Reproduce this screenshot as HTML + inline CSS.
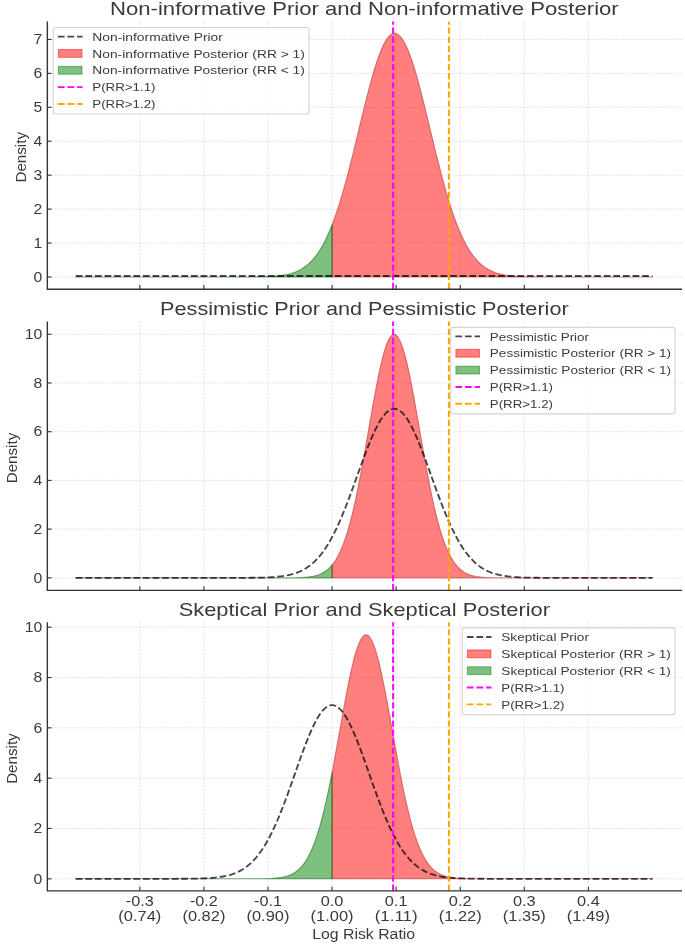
<!DOCTYPE html>
<html><head><meta charset="utf-8"><title>Prior and Posterior Densities</title>
<style>html,body{margin:0;padding:0;background:#fff;font-family:"Liberation Sans",sans-serif;}svg{display:block;will-change:transform;}</style></head>
<body>
<svg width="685" height="946" viewBox="0 0 685 946" font-family="'Liberation Sans', sans-serif">
<rect width="685" height="946" fill="#ffffff"/>
<g stroke="#cfcfcf" stroke-width="0.7" stroke-dasharray="2.2 1.2" stroke-opacity="0.8" fill="none"><line x1="139.83" y1="21.40" x2="139.83" y2="289.20"/><line x1="203.91" y1="21.40" x2="203.91" y2="289.20"/><line x1="267.99" y1="21.40" x2="267.99" y2="289.20"/><line x1="332.07" y1="21.40" x2="332.07" y2="289.20"/><line x1="396.15" y1="21.40" x2="396.15" y2="289.20"/><line x1="460.23" y1="21.40" x2="460.23" y2="289.20"/><line x1="524.31" y1="21.40" x2="524.31" y2="289.20"/><line x1="588.39" y1="21.40" x2="588.39" y2="289.20"/><line x1="47.35" y1="277.00" x2="682.00" y2="277.00"/><line x1="47.35" y1="243.06" x2="682.00" y2="243.06"/><line x1="47.35" y1="209.12" x2="682.00" y2="209.12"/><line x1="47.35" y1="175.18" x2="682.00" y2="175.18"/><line x1="47.35" y1="141.24" x2="682.00" y2="141.24"/><line x1="47.35" y1="107.30" x2="682.00" y2="107.30"/><line x1="47.35" y1="73.36" x2="682.00" y2="73.36"/><line x1="47.35" y1="39.42" x2="682.00" y2="39.42"/></g>
<path d="M332.07,277.00L332.07,224.74L333.03,222.22L334.48,218.29L335.92,214.18L337.37,209.89L338.82,205.43L340.26,200.79L341.71,195.99L343.15,191.03L344.60,185.92L346.04,180.66L347.49,175.27L348.93,169.75L350.38,164.11L351.82,158.38L353.27,152.56L354.71,146.67L356.16,140.73L357.61,134.75L359.05,128.75L360.50,122.75L361.94,116.78L363.39,110.84L364.83,104.97L366.28,99.19L367.72,93.52L369.17,87.98L370.61,82.59L372.06,77.37L373.51,72.35L374.95,67.56L376.40,63.00L377.84,58.70L379.29,54.69L380.73,50.97L382.18,47.57L383.62,44.51L385.07,41.78L386.51,39.42L387.96,37.44L389.40,35.83L390.85,34.61L392.30,33.78L393.74,33.36L395.19,33.34L396.63,33.71L398.08,34.49L399.52,35.67L400.97,37.23L402.41,39.17L403.86,41.49L405.30,44.17L406.75,47.20L408.20,50.56L409.64,54.24L411.09,58.22L412.53,62.49L413.98,67.01L415.42,71.78L416.87,76.77L418.31,81.97L419.76,87.34L421.20,92.86L422.65,98.52L424.09,104.30L425.54,110.15L426.99,116.08L428.43,122.05L429.88,128.05L431.32,134.05L432.77,140.03L434.21,145.98L435.66,151.88L437.10,157.70L438.55,163.45L439.99,169.10L441.44,174.63L442.89,180.04L444.33,185.31L445.78,190.45L447.22,195.42L448.67,200.24L450.11,204.90L451.56,209.38L453.00,213.69L454.45,217.82L455.89,221.77L457.34,225.55L458.78,229.14L460.23,232.56L461.68,235.80L463.12,238.87L464.57,241.76L466.01,244.49L467.46,247.06L468.90,249.47L470.35,251.73L471.79,253.84L473.24,255.81L474.68,257.65L476.13,259.35L477.57,260.93L479.02,262.40L480.47,263.75L481.91,265.00L483.36,266.14L484.80,267.20L486.25,268.16L487.69,269.05L489.14,269.85L490.58,270.59L492.03,271.26L493.47,271.87L494.92,272.42L496.37,272.92L497.81,273.37L499.26,273.77L500.70,274.14L502.15,274.47L503.59,274.76L505.04,275.03L506.48,275.26L507.93,275.47L509.37,275.66L510.82,275.82L512.26,275.97L513.71,276.10L515.16,276.21L516.60,276.32L518.05,276.41L519.49,276.48L520.94,276.55L522.38,276.61L523.83,276.67L525.27,276.71L526.72,276.75L528.16,276.79L529.61,276.82L531.06,276.84L532.50,276.87L533.95,276.89L535.39,276.90L536.84,276.92L538.28,276.93L539.73,276.94L541.17,276.95L542.62,276.96L544.06,276.96L545.51,276.97L546.95,276.97L548.40,276.98L549.85,276.98L551.29,276.98L552.74,276.99L554.18,276.99L555.63,276.99L557.07,276.99L558.52,276.99L559.96,276.99L561.41,277.00L562.85,277.00L564.30,277.00L565.75,277.00L567.19,277.00L568.64,277.00L570.08,277.00L571.53,277.00L572.97,277.00L574.42,277.00L575.86,277.00L577.31,277.00L578.75,277.00L580.20,277.00L581.64,277.00L583.09,277.00L584.54,277.00L585.98,277.00L587.43,277.00L588.87,277.00L590.32,277.00L591.76,277.00L593.21,277.00L594.65,277.00L596.10,277.00L597.54,277.00L598.99,277.00L600.44,277.00L601.88,277.00L603.33,277.00L604.77,277.00L606.22,277.00L607.66,277.00L609.11,277.00L610.55,277.00L612.00,277.00L613.44,277.00L614.89,277.00L616.33,277.00L617.78,277.00L619.23,277.00L620.67,277.00L622.12,277.00L623.56,277.00L625.01,277.00L626.45,277.00L627.90,277.00L629.34,277.00L630.79,277.00L632.23,277.00L633.68,277.00L635.13,277.00L636.57,277.00L638.02,277.00L639.46,277.00L640.91,277.00L642.35,277.00L643.80,277.00L645.24,277.00L646.69,277.00L648.13,277.00L649.58,277.00L651.02,277.00L652.47,277.00L652.47,277.00Z" fill="#ff0000" fill-opacity="0.5" stroke="#b02020" stroke-opacity="0.5" stroke-width="1.1" stroke-linejoin="round"/>
<path d="M75.75,277.00L75.75,277.00L77.20,277.00L78.64,277.00L80.09,277.00L81.53,277.00L82.98,277.00L84.42,277.00L85.87,277.00L87.31,277.00L88.76,277.00L90.20,277.00L91.65,277.00L93.09,277.00L94.54,277.00L95.99,277.00L97.43,277.00L98.88,277.00L100.32,277.00L101.77,277.00L103.21,277.00L104.66,277.00L106.10,277.00L107.55,277.00L108.99,277.00L110.44,277.00L111.89,277.00L113.33,277.00L114.78,277.00L116.22,277.00L117.67,277.00L119.11,277.00L120.56,277.00L122.00,277.00L123.45,277.00L124.89,277.00L126.34,277.00L127.78,277.00L129.23,277.00L130.68,277.00L132.12,277.00L133.57,277.00L135.01,277.00L136.46,277.00L137.90,277.00L139.35,277.00L140.79,277.00L142.24,277.00L143.68,277.00L145.13,277.00L146.58,277.00L148.02,277.00L149.47,277.00L150.91,277.00L152.36,277.00L153.80,277.00L155.25,277.00L156.69,277.00L158.14,277.00L159.58,277.00L161.03,277.00L162.47,277.00L163.92,277.00L165.37,277.00L166.81,277.00L168.26,277.00L169.70,277.00L171.15,277.00L172.59,277.00L174.04,277.00L175.48,277.00L176.93,277.00L178.37,277.00L179.82,277.00L181.27,277.00L182.71,277.00L184.16,277.00L185.60,277.00L187.05,277.00L188.49,277.00L189.94,277.00L191.38,277.00L192.83,277.00L194.27,277.00L195.72,277.00L197.16,277.00L198.61,277.00L200.06,277.00L201.50,277.00L202.95,277.00L204.39,277.00L205.84,277.00L207.28,277.00L208.73,277.00L210.17,277.00L211.62,277.00L213.06,277.00L214.51,277.00L215.96,277.00L217.40,277.00L218.85,277.00L220.29,277.00L221.74,277.00L223.18,277.00L224.63,277.00L226.07,277.00L227.52,277.00L228.96,277.00L230.41,276.99L231.85,276.99L233.30,276.99L234.75,276.99L236.19,276.99L237.64,276.99L239.08,276.98L240.53,276.98L241.97,276.97L243.42,276.97L244.86,276.96L246.31,276.96L247.75,276.95L249.20,276.94L250.65,276.93L252.09,276.92L253.54,276.90L254.98,276.89L256.43,276.87L257.87,276.85L259.32,276.82L260.76,276.79L262.21,276.76L263.65,276.72L265.10,276.67L266.54,276.62L267.99,276.56L269.44,276.49L270.88,276.42L272.33,276.33L273.77,276.23L275.22,276.11L276.66,275.99L278.11,275.84L279.55,275.68L281.00,275.49L282.44,275.29L283.89,275.05L285.33,274.79L286.78,274.50L288.23,274.18L289.67,273.82L291.12,273.42L292.56,272.97L294.01,272.48L295.45,271.93L296.90,271.33L298.34,270.67L299.79,269.94L301.23,269.14L302.68,268.27L304.13,267.31L305.57,266.27L307.02,265.13L308.46,263.90L309.91,262.56L311.35,261.11L312.80,259.54L314.24,257.85L315.69,256.03L317.13,254.08L318.58,251.99L320.02,249.74L321.47,247.35L322.92,244.80L324.36,242.09L325.81,239.21L327.25,236.16L328.70,232.94L330.14,229.55L331.59,225.97L332.07,224.74L332.07,277.00Z" fill="#008000" fill-opacity="0.5" stroke="#005a00" stroke-opacity="0.5" stroke-width="1.1" stroke-linejoin="round"/>
<g transform="scale(1 0.95)"><path d="M75.75,290.51L652.47,290.51" fill="none" stroke="#000000" stroke-opacity="0.72" stroke-width="1.9" stroke-dasharray="6.7 2.9"/>
<line x1="393.14" y1="304.42" x2="393.14" y2="22.53" stroke="#ff00ff" stroke-width="2.0" stroke-dasharray="6.7 2.9"/>
<line x1="448.90" y1="304.42" x2="448.90" y2="22.53" stroke="#ffa500" stroke-width="2.0" stroke-dasharray="6.7 2.9"/>
</g>
<path d="M47.35,21.40V289.20H682.00" fill="none" stroke="#333333" stroke-width="1.4" stroke-linecap="butt" stroke-linejoin="miter"/>
<g stroke="#333333" stroke-width="1.1"><line x1="139.83" y1="289.20" x2="139.83" y2="285.00"/><line x1="203.91" y1="289.20" x2="203.91" y2="285.00"/><line x1="267.99" y1="289.20" x2="267.99" y2="285.00"/><line x1="332.07" y1="289.20" x2="332.07" y2="285.00"/><line x1="396.15" y1="289.20" x2="396.15" y2="285.00"/><line x1="460.23" y1="289.20" x2="460.23" y2="285.00"/><line x1="524.31" y1="289.20" x2="524.31" y2="285.00"/><line x1="588.39" y1="289.20" x2="588.39" y2="285.00"/><line x1="47.35" y1="277.00" x2="51.55" y2="277.00"/><line x1="47.35" y1="243.06" x2="51.55" y2="243.06"/><line x1="47.35" y1="209.12" x2="51.55" y2="209.12"/><line x1="47.35" y1="175.18" x2="51.55" y2="175.18"/><line x1="47.35" y1="141.24" x2="51.55" y2="141.24"/><line x1="47.35" y1="107.30" x2="51.55" y2="107.30"/><line x1="47.35" y1="73.36" x2="51.55" y2="73.36"/><line x1="47.35" y1="39.42" x2="51.55" y2="39.42"/></g>
<text x="42.40" y="281.80" font-size="14.0" text-anchor="end" textLength="8.78" lengthAdjust="spacingAndGlyphs" fill="#3a3a3a">0</text>
<text x="42.40" y="247.86" font-size="14.0" text-anchor="end" textLength="8.78" lengthAdjust="spacingAndGlyphs" fill="#3a3a3a">1</text>
<text x="42.40" y="213.92" font-size="14.0" text-anchor="end" textLength="8.78" lengthAdjust="spacingAndGlyphs" fill="#3a3a3a">2</text>
<text x="42.40" y="179.98" font-size="14.0" text-anchor="end" textLength="8.78" lengthAdjust="spacingAndGlyphs" fill="#3a3a3a">3</text>
<text x="42.40" y="146.04" font-size="14.0" text-anchor="end" textLength="8.78" lengthAdjust="spacingAndGlyphs" fill="#3a3a3a">4</text>
<text x="42.40" y="112.10" font-size="14.0" text-anchor="end" textLength="8.78" lengthAdjust="spacingAndGlyphs" fill="#3a3a3a">5</text>
<text x="42.40" y="78.16" font-size="14.0" text-anchor="end" textLength="8.78" lengthAdjust="spacingAndGlyphs" fill="#3a3a3a">6</text>
<text x="42.40" y="44.22" font-size="14.0" text-anchor="end" textLength="8.78" lengthAdjust="spacingAndGlyphs" fill="#3a3a3a">7</text>
<g transform="translate(25.9,157.30) rotate(-90)"><text x="0.00" y="0.00" font-size="15.2" text-anchor="middle" textLength="50.56" lengthAdjust="spacingAndGlyphs" fill="#3a3a3a">Density</text></g>
<text x="364.38" y="15.00" font-size="18.5" text-anchor="middle" textLength="508.70" lengthAdjust="spacingAndGlyphs" fill="#3a3a3a">Non-informative Prior and Non-informative Posterior</text>
<rect x="53.20" y="27.50" width="255.80" height="86.50" rx="2.6" fill="#ffffff" fill-opacity="0.8" stroke="#cccccc" stroke-opacity="0.8" stroke-width="1.2"/>
<line x1="57.90" y1="36.60" x2="82.50" y2="36.60" stroke="#000" stroke-opacity="0.72" stroke-width="1.9" stroke-dasharray="6.7 2.9"/>
<text x="92.30" y="40.70" font-size="11.6" textLength="130.58" lengthAdjust="spacingAndGlyphs" fill="#3a3a3a">Non-informative Prior</text>
<rect x="58.40" y="49.55" width="23.6" height="7.8" fill="#ff0000" fill-opacity="0.5" stroke="#ff0000" stroke-opacity="0.5" stroke-width="1"/>
<text x="92.30" y="57.55" font-size="11.6" textLength="212.51" lengthAdjust="spacingAndGlyphs" fill="#3a3a3a">Non-informative Posterior (RR &gt; 1)</text>
<rect x="58.40" y="66.40" width="23.6" height="7.8" fill="#008000" fill-opacity="0.5" stroke="#008000" stroke-opacity="0.5" stroke-width="1"/>
<text x="92.30" y="74.40" font-size="11.6" textLength="212.51" lengthAdjust="spacingAndGlyphs" fill="#3a3a3a">Non-informative Posterior (RR &lt; 1)</text>
<line x1="57.90" y1="87.15" x2="82.50" y2="87.15" stroke="#ff00ff" stroke-width="1.9" stroke-dasharray="6.7 2.9"/>
<text x="92.30" y="91.25" font-size="11.6" textLength="63.25" lengthAdjust="spacingAndGlyphs" fill="#3a3a3a">P(RR&gt;1.1)</text>
<line x1="57.90" y1="104.00" x2="82.50" y2="104.00" stroke="#ffa500" stroke-width="1.9" stroke-dasharray="6.7 2.9"/>
<text x="92.30" y="108.10" font-size="11.6" textLength="63.25" lengthAdjust="spacingAndGlyphs" fill="#3a3a3a">P(RR&gt;1.2)</text>
<g stroke="#cfcfcf" stroke-width="0.7" stroke-dasharray="2.2 1.2" stroke-opacity="0.8" fill="none"><line x1="139.83" y1="321.60" x2="139.83" y2="590.40"/><line x1="203.91" y1="321.60" x2="203.91" y2="590.40"/><line x1="267.99" y1="321.60" x2="267.99" y2="590.40"/><line x1="332.07" y1="321.60" x2="332.07" y2="590.40"/><line x1="396.15" y1="321.60" x2="396.15" y2="590.40"/><line x1="460.23" y1="321.60" x2="460.23" y2="590.40"/><line x1="524.31" y1="321.60" x2="524.31" y2="590.40"/><line x1="588.39" y1="321.60" x2="588.39" y2="590.40"/><line x1="47.35" y1="577.85" x2="682.00" y2="577.85"/><line x1="47.35" y1="529.13" x2="682.00" y2="529.13"/><line x1="47.35" y1="480.41" x2="682.00" y2="480.41"/><line x1="47.35" y1="431.69" x2="682.00" y2="431.69"/><line x1="47.35" y1="382.97" x2="682.00" y2="382.97"/><line x1="47.35" y1="334.25" x2="682.00" y2="334.25"/></g>
<path d="M332.07,577.85L332.07,565.01L333.03,563.79L334.48,561.79L335.92,559.55L337.37,557.07L338.82,554.33L340.26,551.32L341.71,548.01L343.15,544.40L344.60,540.47L346.04,536.21L347.49,531.62L348.93,526.68L350.38,521.40L351.82,515.77L353.27,509.80L354.71,503.49L356.16,496.85L357.61,489.90L359.05,482.66L360.50,475.16L361.94,467.41L363.39,459.46L364.83,451.35L366.28,443.11L367.72,434.79L369.17,426.44L370.61,418.11L372.06,409.87L373.51,401.76L374.95,393.85L376.40,386.20L377.84,378.87L379.29,371.91L380.73,365.40L382.18,359.37L383.62,353.90L385.07,349.01L386.51,344.77L387.96,341.21L389.40,338.36L390.85,336.24L392.30,334.89L393.74,334.31L395.19,334.51L396.63,335.48L398.08,337.22L399.52,339.70L400.97,342.92L402.41,346.83L403.86,351.40L405.30,356.59L406.75,362.35L408.20,368.62L409.64,375.37L411.09,382.52L412.53,390.02L413.98,397.81L415.42,405.83L416.87,414.01L418.31,422.30L419.76,430.65L421.20,438.99L422.65,447.27L424.09,455.46L425.54,463.49L426.99,471.34L428.43,478.97L429.88,486.35L431.32,493.44L432.77,500.23L434.21,506.71L435.66,512.85L437.10,518.65L438.55,524.11L439.99,529.21L441.44,533.98L442.89,538.40L444.33,542.49L445.78,546.26L447.22,549.71L448.67,552.87L450.11,555.75L451.56,558.35L453.00,560.71L454.45,562.82L455.89,564.72L457.34,566.42L458.78,567.92L460.23,569.26L461.68,570.44L463.12,571.48L464.57,572.39L466.01,573.19L467.46,573.88L468.90,574.48L470.35,575.00L471.79,575.44L473.24,575.83L474.68,576.15L476.13,576.43L477.57,576.67L479.02,576.87L480.47,577.04L481.91,577.18L483.36,577.30L484.80,577.40L486.25,577.48L487.69,577.55L489.14,577.61L490.58,577.65L492.03,577.69L493.47,577.72L494.92,577.75L496.37,577.77L497.81,577.78L499.26,577.80L500.70,577.81L502.15,577.82L503.59,577.82L505.04,577.83L506.48,577.83L507.93,577.84L509.37,577.84L510.82,577.84L512.26,577.84L513.71,577.85L515.16,577.85L516.60,577.85L518.05,577.85L519.49,577.85L520.94,577.85L522.38,577.85L523.83,577.85L525.27,577.85L526.72,577.85L528.16,577.85L529.61,577.85L531.06,577.85L532.50,577.85L533.95,577.85L535.39,577.85L536.84,577.85L538.28,577.85L539.73,577.85L541.17,577.85L542.62,577.85L544.06,577.85L545.51,577.85L546.95,577.85L548.40,577.85L549.85,577.85L551.29,577.85L552.74,577.85L554.18,577.85L555.63,577.85L557.07,577.85L558.52,577.85L559.96,577.85L561.41,577.85L562.85,577.85L564.30,577.85L565.75,577.85L567.19,577.85L568.64,577.85L570.08,577.85L571.53,577.85L572.97,577.85L574.42,577.85L575.86,577.85L577.31,577.85L578.75,577.85L580.20,577.85L581.64,577.85L583.09,577.85L584.54,577.85L585.98,577.85L587.43,577.85L588.87,577.85L590.32,577.85L591.76,577.85L593.21,577.85L594.65,577.85L596.10,577.85L597.54,577.85L598.99,577.85L600.44,577.85L601.88,577.85L603.33,577.85L604.77,577.85L606.22,577.85L607.66,577.85L609.11,577.85L610.55,577.85L612.00,577.85L613.44,577.85L614.89,577.85L616.33,577.85L617.78,577.85L619.23,577.85L620.67,577.85L622.12,577.85L623.56,577.85L625.01,577.85L626.45,577.85L627.90,577.85L629.34,577.85L630.79,577.85L632.23,577.85L633.68,577.85L635.13,577.85L636.57,577.85L638.02,577.85L639.46,577.85L640.91,577.85L642.35,577.85L643.80,577.85L645.24,577.85L646.69,577.85L648.13,577.85L649.58,577.85L651.02,577.85L652.47,577.85L652.47,577.85Z" fill="#ff0000" fill-opacity="0.5" stroke="#b02020" stroke-opacity="0.5" stroke-width="1.1" stroke-linejoin="round"/>
<path d="M75.75,577.85L75.75,577.85L77.20,577.85L78.64,577.85L80.09,577.85L81.53,577.85L82.98,577.85L84.42,577.85L85.87,577.85L87.31,577.85L88.76,577.85L90.20,577.85L91.65,577.85L93.09,577.85L94.54,577.85L95.99,577.85L97.43,577.85L98.88,577.85L100.32,577.85L101.77,577.85L103.21,577.85L104.66,577.85L106.10,577.85L107.55,577.85L108.99,577.85L110.44,577.85L111.89,577.85L113.33,577.85L114.78,577.85L116.22,577.85L117.67,577.85L119.11,577.85L120.56,577.85L122.00,577.85L123.45,577.85L124.89,577.85L126.34,577.85L127.78,577.85L129.23,577.85L130.68,577.85L132.12,577.85L133.57,577.85L135.01,577.85L136.46,577.85L137.90,577.85L139.35,577.85L140.79,577.85L142.24,577.85L143.68,577.85L145.13,577.85L146.58,577.85L148.02,577.85L149.47,577.85L150.91,577.85L152.36,577.85L153.80,577.85L155.25,577.85L156.69,577.85L158.14,577.85L159.58,577.85L161.03,577.85L162.47,577.85L163.92,577.85L165.37,577.85L166.81,577.85L168.26,577.85L169.70,577.85L171.15,577.85L172.59,577.85L174.04,577.85L175.48,577.85L176.93,577.85L178.37,577.85L179.82,577.85L181.27,577.85L182.71,577.85L184.16,577.85L185.60,577.85L187.05,577.85L188.49,577.85L189.94,577.85L191.38,577.85L192.83,577.85L194.27,577.85L195.72,577.85L197.16,577.85L198.61,577.85L200.06,577.85L201.50,577.85L202.95,577.85L204.39,577.85L205.84,577.85L207.28,577.85L208.73,577.85L210.17,577.85L211.62,577.85L213.06,577.85L214.51,577.85L215.96,577.85L217.40,577.85L218.85,577.85L220.29,577.85L221.74,577.85L223.18,577.85L224.63,577.85L226.07,577.85L227.52,577.85L228.96,577.85L230.41,577.85L231.85,577.85L233.30,577.85L234.75,577.85L236.19,577.85L237.64,577.85L239.08,577.85L240.53,577.85L241.97,577.85L243.42,577.85L244.86,577.85L246.31,577.85L247.75,577.85L249.20,577.85L250.65,577.85L252.09,577.85L253.54,577.85L254.98,577.85L256.43,577.85L257.87,577.85L259.32,577.85L260.76,577.85L262.21,577.85L263.65,577.85L265.10,577.85L266.54,577.85L267.99,577.85L269.44,577.85L270.88,577.85L272.33,577.85L273.77,577.85L275.22,577.85L276.66,577.84L278.11,577.84L279.55,577.84L281.00,577.84L282.44,577.83L283.89,577.83L285.33,577.82L286.78,577.81L288.23,577.80L289.67,577.79L291.12,577.78L292.56,577.76L294.01,577.74L295.45,577.71L296.90,577.67L298.34,577.63L299.79,577.58L301.23,577.52L302.68,577.44L304.13,577.35L305.57,577.24L307.02,577.11L308.46,576.96L309.91,576.77L311.35,576.56L312.80,576.30L314.24,575.99L315.69,575.64L317.13,575.23L318.58,574.74L320.02,574.19L321.47,573.54L322.92,572.80L324.36,571.95L325.81,570.97L327.25,569.87L328.70,568.61L330.14,567.19L331.59,565.59L332.07,565.01L332.07,577.85Z" fill="#008000" fill-opacity="0.5" stroke="#005a00" stroke-opacity="0.5" stroke-width="1.1" stroke-linejoin="round"/>
<g transform="scale(1 0.95)"><path d="M75.75,608.26L77.20,608.26L78.64,608.26L80.09,608.26L81.53,608.26L82.98,608.26L84.42,608.26L85.87,608.26L87.31,608.26L88.76,608.26L90.20,608.26L91.65,608.26L93.09,608.26L94.54,608.26L95.99,608.26L97.43,608.26L98.88,608.26L100.32,608.26L101.77,608.26L103.21,608.26L104.66,608.26L106.10,608.26L107.55,608.26L108.99,608.26L110.44,608.26L111.89,608.26L113.33,608.26L114.78,608.26L116.22,608.26L117.67,608.26L119.11,608.26L120.56,608.26L122.00,608.26L123.45,608.26L124.89,608.26L126.34,608.26L127.78,608.26L129.23,608.26L130.68,608.26L132.12,608.26L133.57,608.26L135.01,608.26L136.46,608.26L137.90,608.26L139.35,608.26L140.79,608.26L142.24,608.26L143.68,608.26L145.13,608.26L146.58,608.26L148.02,608.26L149.47,608.26L150.91,608.26L152.36,608.26L153.80,608.26L155.25,608.26L156.69,608.26L158.14,608.26L159.58,608.26L161.03,608.26L162.47,608.26L163.92,608.26L165.37,608.26L166.81,608.26L168.26,608.26L169.70,608.26L171.15,608.26L172.59,608.26L174.04,608.26L175.48,608.26L176.93,608.26L178.37,608.26L179.82,608.26L181.27,608.26L182.71,608.26L184.16,608.26L185.60,608.26L187.05,608.26L188.49,608.26L189.94,608.26L191.38,608.26L192.83,608.26L194.27,608.26L195.72,608.26L197.16,608.26L198.61,608.26L200.06,608.26L201.50,608.26L202.95,608.26L204.39,608.26L205.84,608.26L207.28,608.26L208.73,608.26L210.17,608.26L211.62,608.26L213.06,608.26L214.51,608.26L215.96,608.26L217.40,608.26L218.85,608.26L220.29,608.26L221.74,608.26L223.18,608.26L224.63,608.26L226.07,608.26L227.52,608.26L228.96,608.26L230.41,608.25L231.85,608.25L233.30,608.25L234.75,608.25L236.19,608.25L237.64,608.24L239.08,608.24L240.53,608.23L241.97,608.23L243.42,608.22L244.86,608.22L246.31,608.21L247.75,608.20L249.20,608.19L250.65,608.17L252.09,608.16L253.54,608.14L254.98,608.12L256.43,608.10L257.87,608.07L259.32,608.04L260.76,608.01L262.21,607.97L263.65,607.93L265.10,607.88L266.54,607.82L267.99,607.76L269.44,607.69L270.88,607.61L272.33,607.52L273.77,607.41L275.22,607.30L276.66,607.17L278.11,607.02L279.55,606.86L281.00,606.68L282.44,606.48L283.89,606.25L285.33,606.01L286.78,605.73L288.23,605.43L289.67,605.09L291.12,604.72L292.56,604.31L294.01,603.86L295.45,603.37L296.90,602.83L298.34,602.24L299.79,601.60L301.23,600.90L302.68,600.14L304.13,599.32L305.57,598.42L307.02,597.46L308.46,596.41L309.91,595.29L311.35,594.08L312.80,592.79L314.24,591.40L315.69,589.92L317.13,588.33L318.58,586.64L320.02,584.85L321.47,582.94L322.92,580.92L324.36,578.79L325.81,576.54L327.25,574.17L328.70,571.67L330.14,569.06L331.59,566.32L333.03,563.47L334.48,560.49L335.92,557.39L337.37,554.17L338.82,550.84L340.26,547.40L341.71,543.85L343.15,540.20L344.60,536.45L346.04,532.61L347.49,528.69L348.93,524.69L350.38,520.63L351.82,516.51L353.27,512.35L354.71,508.15L356.16,503.93L357.61,499.70L359.05,495.47L360.50,491.26L361.94,487.07L363.39,482.93L364.83,478.85L366.28,474.83L367.72,470.91L369.17,467.09L370.61,463.38L372.06,459.81L373.51,456.38L374.95,453.11L376.40,450.02L377.84,447.11L379.29,444.40L380.73,441.90L382.18,439.62L383.62,437.57L385.07,435.77L386.51,434.21L387.96,432.91L389.40,431.87L390.85,431.10L392.30,430.60L393.74,430.37L395.19,430.42L396.63,430.73L398.08,431.32L399.52,432.18L400.97,433.31L402.41,434.69L403.86,436.33L405.30,438.22L406.75,440.34L408.20,442.69L409.64,445.26L411.09,448.04L412.53,451.01L413.98,454.16L415.42,457.48L416.87,460.96L418.31,464.58L419.76,468.32L421.20,472.18L422.65,476.14L424.09,480.17L425.54,484.28L426.99,488.43L428.43,492.63L429.88,496.85L431.32,501.08L432.77,505.31L434.21,509.53L435.66,513.72L437.10,517.86L438.55,521.96L439.99,526.01L441.44,529.98L442.89,533.87L444.33,537.68L445.78,541.40L447.22,545.02L448.67,548.54L450.11,551.94L451.56,555.24L453.00,558.41L454.45,561.47L455.89,564.41L457.34,567.23L458.78,569.93L460.23,572.50L461.68,574.95L463.12,577.29L464.57,579.50L466.01,581.59L467.46,583.58L468.90,585.44L470.35,587.20L471.79,588.86L473.24,590.41L474.68,591.86L476.13,593.22L477.57,594.49L479.02,595.67L480.47,596.76L481.91,597.78L483.36,598.72L484.80,599.59L486.25,600.40L487.69,601.14L489.14,601.82L490.58,602.44L492.03,603.01L493.47,603.53L494.92,604.01L496.37,604.45L497.81,604.84L499.26,605.20L500.70,605.53L502.15,605.82L503.59,606.09L505.04,606.33L506.48,606.55L507.93,606.74L509.37,606.92L510.82,607.07L512.26,607.21L513.71,607.34L515.16,607.45L516.60,607.55L518.05,607.64L519.49,607.71L520.94,607.78L522.38,607.84L523.83,607.90L525.27,607.94L526.72,607.99L528.16,608.02L529.61,608.05L531.06,608.08L532.50,608.11L533.95,608.13L535.39,608.15L536.84,608.16L538.28,608.18L539.73,608.19L541.17,608.20L542.62,608.21L544.06,608.22L545.51,608.22L546.95,608.23L548.40,608.24L549.85,608.24L551.29,608.24L552.74,608.25L554.18,608.25L555.63,608.25L557.07,608.25L558.52,608.25L559.96,608.26L561.41,608.26L562.85,608.26L564.30,608.26L565.75,608.26L567.19,608.26L568.64,608.26L570.08,608.26L571.53,608.26L572.97,608.26L574.42,608.26L575.86,608.26L577.31,608.26L578.75,608.26L580.20,608.26L581.64,608.26L583.09,608.26L584.54,608.26L585.98,608.26L587.43,608.26L588.87,608.26L590.32,608.26L591.76,608.26L593.21,608.26L594.65,608.26L596.10,608.26L597.54,608.26L598.99,608.26L600.44,608.26L601.88,608.26L603.33,608.26L604.77,608.26L606.22,608.26L607.66,608.26L609.11,608.26L610.55,608.26L612.00,608.26L613.44,608.26L614.89,608.26L616.33,608.26L617.78,608.26L619.23,608.26L620.67,608.26L622.12,608.26L623.56,608.26L625.01,608.26L626.45,608.26L627.90,608.26L629.34,608.26L630.79,608.26L632.23,608.26L633.68,608.26L635.13,608.26L636.57,608.26L638.02,608.26L639.46,608.26L640.91,608.26L642.35,608.26L643.80,608.26L645.24,608.26L646.69,608.26L648.13,608.26L649.58,608.26L651.02,608.26L652.47,608.26" fill="none" stroke="#000000" stroke-opacity="0.72" stroke-width="1.9" stroke-dasharray="6.7 2.9"/>
<line x1="393.14" y1="621.47" x2="393.14" y2="338.53" stroke="#ff00ff" stroke-width="2.0" stroke-dasharray="6.7 2.9"/>
<line x1="448.90" y1="621.47" x2="448.90" y2="338.53" stroke="#ffa500" stroke-width="2.0" stroke-dasharray="6.7 2.9"/>
</g>
<path d="M47.35,321.60V590.40H682.00" fill="none" stroke="#333333" stroke-width="1.4" stroke-linecap="butt" stroke-linejoin="miter"/>
<g stroke="#333333" stroke-width="1.1"><line x1="139.83" y1="590.40" x2="139.83" y2="586.20"/><line x1="203.91" y1="590.40" x2="203.91" y2="586.20"/><line x1="267.99" y1="590.40" x2="267.99" y2="586.20"/><line x1="332.07" y1="590.40" x2="332.07" y2="586.20"/><line x1="396.15" y1="590.40" x2="396.15" y2="586.20"/><line x1="460.23" y1="590.40" x2="460.23" y2="586.20"/><line x1="524.31" y1="590.40" x2="524.31" y2="586.20"/><line x1="588.39" y1="590.40" x2="588.39" y2="586.20"/><line x1="47.35" y1="577.85" x2="51.55" y2="577.85"/><line x1="47.35" y1="529.13" x2="51.55" y2="529.13"/><line x1="47.35" y1="480.41" x2="51.55" y2="480.41"/><line x1="47.35" y1="431.69" x2="51.55" y2="431.69"/><line x1="47.35" y1="382.97" x2="51.55" y2="382.97"/><line x1="47.35" y1="334.25" x2="51.55" y2="334.25"/></g>
<text x="42.40" y="582.65" font-size="14.0" text-anchor="end" textLength="8.78" lengthAdjust="spacingAndGlyphs" fill="#3a3a3a">0</text>
<text x="42.40" y="533.93" font-size="14.0" text-anchor="end" textLength="8.78" lengthAdjust="spacingAndGlyphs" fill="#3a3a3a">2</text>
<text x="42.40" y="485.21" font-size="14.0" text-anchor="end" textLength="8.78" lengthAdjust="spacingAndGlyphs" fill="#3a3a3a">4</text>
<text x="42.40" y="436.49" font-size="14.0" text-anchor="end" textLength="8.78" lengthAdjust="spacingAndGlyphs" fill="#3a3a3a">6</text>
<text x="42.40" y="387.77" font-size="14.0" text-anchor="end" textLength="8.78" lengthAdjust="spacingAndGlyphs" fill="#3a3a3a">8</text>
<text x="42.40" y="339.05" font-size="14.0" text-anchor="end" textLength="17.56" lengthAdjust="spacingAndGlyphs" fill="#3a3a3a">10</text>
<g transform="translate(16.9,458.00) rotate(-90)"><text x="0.00" y="0.00" font-size="15.2" text-anchor="middle" textLength="50.56" lengthAdjust="spacingAndGlyphs" fill="#3a3a3a">Density</text></g>
<text x="364.38" y="315.30" font-size="18.5" text-anchor="middle" textLength="408.48" lengthAdjust="spacingAndGlyphs" fill="#3a3a3a">Pessimistic Prior and Pessimistic Posterior</text>
<rect x="450.70" y="327.30" width="224.30" height="86.50" rx="2.6" fill="#ffffff" fill-opacity="0.8" stroke="#cccccc" stroke-opacity="0.8" stroke-width="1.2"/>
<line x1="455.40" y1="336.40" x2="480.00" y2="336.40" stroke="#000" stroke-opacity="0.72" stroke-width="1.9" stroke-dasharray="6.7 2.9"/>
<text x="489.80" y="340.50" font-size="11.6" textLength="99.27" lengthAdjust="spacingAndGlyphs" fill="#3a3a3a">Pessimistic Prior</text>
<rect x="455.90" y="349.35" width="23.6" height="7.8" fill="#ff0000" fill-opacity="0.5" stroke="#ff0000" stroke-opacity="0.5" stroke-width="1"/>
<text x="489.80" y="357.35" font-size="11.6" textLength="181.21" lengthAdjust="spacingAndGlyphs" fill="#3a3a3a">Pessimistic Posterior (RR &gt; 1)</text>
<rect x="455.90" y="366.20" width="23.6" height="7.8" fill="#008000" fill-opacity="0.5" stroke="#008000" stroke-opacity="0.5" stroke-width="1"/>
<text x="489.80" y="374.20" font-size="11.6" textLength="181.21" lengthAdjust="spacingAndGlyphs" fill="#3a3a3a">Pessimistic Posterior (RR &lt; 1)</text>
<line x1="455.40" y1="386.95" x2="480.00" y2="386.95" stroke="#ff00ff" stroke-width="1.9" stroke-dasharray="6.7 2.9"/>
<text x="489.80" y="391.05" font-size="11.6" textLength="63.25" lengthAdjust="spacingAndGlyphs" fill="#3a3a3a">P(RR&gt;1.1)</text>
<line x1="455.40" y1="403.80" x2="480.00" y2="403.80" stroke="#ffa500" stroke-width="1.9" stroke-dasharray="6.7 2.9"/>
<text x="489.80" y="407.90" font-size="11.6" textLength="63.25" lengthAdjust="spacingAndGlyphs" fill="#3a3a3a">P(RR&gt;1.2)</text>
<g stroke="#cfcfcf" stroke-width="0.7" stroke-dasharray="2.2 1.2" stroke-opacity="0.8" fill="none"><line x1="139.83" y1="622.30" x2="139.83" y2="890.90"/><line x1="203.91" y1="622.30" x2="203.91" y2="890.90"/><line x1="267.99" y1="622.30" x2="267.99" y2="890.90"/><line x1="332.07" y1="622.30" x2="332.07" y2="890.90"/><line x1="396.15" y1="622.30" x2="396.15" y2="890.90"/><line x1="460.23" y1="622.30" x2="460.23" y2="890.90"/><line x1="524.31" y1="622.30" x2="524.31" y2="890.90"/><line x1="588.39" y1="622.30" x2="588.39" y2="890.90"/><line x1="47.35" y1="878.80" x2="682.00" y2="878.80"/><line x1="47.35" y1="828.48" x2="682.00" y2="828.48"/><line x1="47.35" y1="778.16" x2="682.00" y2="778.16"/><line x1="47.35" y1="727.84" x2="682.00" y2="727.84"/><line x1="47.35" y1="677.52" x2="682.00" y2="677.52"/><line x1="47.35" y1="627.20" x2="682.00" y2="627.20"/></g>
<path d="M332.07,878.80L332.07,772.41L333.03,767.35L334.48,759.61L335.92,751.72L337.37,743.70L338.82,735.62L340.26,727.50L341.71,719.41L343.15,711.38L344.60,703.48L346.04,695.76L347.49,688.27L348.93,681.07L350.38,674.22L351.82,667.77L353.27,661.76L354.71,656.25L356.16,651.29L357.61,646.92L359.05,643.17L360.50,640.08L361.94,637.68L363.39,635.99L364.83,635.01L366.28,634.77L367.72,635.26L369.17,636.48L370.61,638.42L372.06,641.06L373.51,644.37L374.95,648.34L376.40,652.92L377.84,658.07L379.29,663.75L380.73,669.91L382.18,676.51L383.62,683.49L385.07,690.79L386.51,698.36L387.96,706.15L389.40,714.10L390.85,722.15L392.30,730.26L393.74,738.37L395.19,746.44L396.63,754.42L398.08,762.26L399.52,769.94L400.97,777.42L402.41,784.67L403.86,791.67L405.30,798.38L406.75,804.81L408.20,810.92L409.64,816.71L411.09,822.18L412.53,827.33L413.98,832.15L415.42,836.64L416.87,840.81L418.31,844.68L419.76,848.24L421.20,851.51L422.65,854.51L424.09,857.24L425.54,859.72L426.99,861.97L428.43,864.00L429.88,865.82L431.32,867.45L432.77,868.91L434.21,870.20L435.66,871.35L437.10,872.37L438.55,873.26L439.99,874.04L441.44,874.73L442.89,875.32L444.33,875.84L445.78,876.29L447.22,876.68L448.67,877.01L450.11,877.29L451.56,877.54L453.00,877.75L454.45,877.92L455.89,878.07L457.34,878.20L458.78,878.30L460.23,878.39L461.68,878.46L463.12,878.52L464.57,878.57L466.01,878.62L467.46,878.65L468.90,878.68L470.35,878.70L471.79,878.72L473.24,878.74L474.68,878.75L476.13,878.76L477.57,878.77L479.02,878.78L480.47,878.78L481.91,878.78L483.36,878.79L484.80,878.79L486.25,878.79L487.69,878.79L489.14,878.80L490.58,878.80L492.03,878.80L493.47,878.80L494.92,878.80L496.37,878.80L497.81,878.80L499.26,878.80L500.70,878.80L502.15,878.80L503.59,878.80L505.04,878.80L506.48,878.80L507.93,878.80L509.37,878.80L510.82,878.80L512.26,878.80L513.71,878.80L515.16,878.80L516.60,878.80L518.05,878.80L519.49,878.80L520.94,878.80L522.38,878.80L523.83,878.80L525.27,878.80L526.72,878.80L528.16,878.80L529.61,878.80L531.06,878.80L532.50,878.80L533.95,878.80L535.39,878.80L536.84,878.80L538.28,878.80L539.73,878.80L541.17,878.80L542.62,878.80L544.06,878.80L545.51,878.80L546.95,878.80L548.40,878.80L549.85,878.80L551.29,878.80L552.74,878.80L554.18,878.80L555.63,878.80L557.07,878.80L558.52,878.80L559.96,878.80L561.41,878.80L562.85,878.80L564.30,878.80L565.75,878.80L567.19,878.80L568.64,878.80L570.08,878.80L571.53,878.80L572.97,878.80L574.42,878.80L575.86,878.80L577.31,878.80L578.75,878.80L580.20,878.80L581.64,878.80L583.09,878.80L584.54,878.80L585.98,878.80L587.43,878.80L588.87,878.80L590.32,878.80L591.76,878.80L593.21,878.80L594.65,878.80L596.10,878.80L597.54,878.80L598.99,878.80L600.44,878.80L601.88,878.80L603.33,878.80L604.77,878.80L606.22,878.80L607.66,878.80L609.11,878.80L610.55,878.80L612.00,878.80L613.44,878.80L614.89,878.80L616.33,878.80L617.78,878.80L619.23,878.80L620.67,878.80L622.12,878.80L623.56,878.80L625.01,878.80L626.45,878.80L627.90,878.80L629.34,878.80L630.79,878.80L632.23,878.80L633.68,878.80L635.13,878.80L636.57,878.80L638.02,878.80L639.46,878.80L640.91,878.80L642.35,878.80L643.80,878.80L645.24,878.80L646.69,878.80L648.13,878.80L649.58,878.80L651.02,878.80L652.47,878.80L652.47,878.80Z" fill="#ff0000" fill-opacity="0.5" stroke="#b02020" stroke-opacity="0.5" stroke-width="1.1" stroke-linejoin="round"/>
<path d="M75.75,878.80L75.75,878.80L77.20,878.80L78.64,878.80L80.09,878.80L81.53,878.80L82.98,878.80L84.42,878.80L85.87,878.80L87.31,878.80L88.76,878.80L90.20,878.80L91.65,878.80L93.09,878.80L94.54,878.80L95.99,878.80L97.43,878.80L98.88,878.80L100.32,878.80L101.77,878.80L103.21,878.80L104.66,878.80L106.10,878.80L107.55,878.80L108.99,878.80L110.44,878.80L111.89,878.80L113.33,878.80L114.78,878.80L116.22,878.80L117.67,878.80L119.11,878.80L120.56,878.80L122.00,878.80L123.45,878.80L124.89,878.80L126.34,878.80L127.78,878.80L129.23,878.80L130.68,878.80L132.12,878.80L133.57,878.80L135.01,878.80L136.46,878.80L137.90,878.80L139.35,878.80L140.79,878.80L142.24,878.80L143.68,878.80L145.13,878.80L146.58,878.80L148.02,878.80L149.47,878.80L150.91,878.80L152.36,878.80L153.80,878.80L155.25,878.80L156.69,878.80L158.14,878.80L159.58,878.80L161.03,878.80L162.47,878.80L163.92,878.80L165.37,878.80L166.81,878.80L168.26,878.80L169.70,878.80L171.15,878.80L172.59,878.80L174.04,878.80L175.48,878.80L176.93,878.80L178.37,878.80L179.82,878.80L181.27,878.80L182.71,878.80L184.16,878.80L185.60,878.80L187.05,878.80L188.49,878.80L189.94,878.80L191.38,878.80L192.83,878.80L194.27,878.80L195.72,878.80L197.16,878.80L198.61,878.80L200.06,878.80L201.50,878.80L202.95,878.80L204.39,878.80L205.84,878.80L207.28,878.80L208.73,878.80L210.17,878.80L211.62,878.80L213.06,878.80L214.51,878.80L215.96,878.80L217.40,878.80L218.85,878.80L220.29,878.80L221.74,878.80L223.18,878.80L224.63,878.80L226.07,878.80L227.52,878.80L228.96,878.80L230.41,878.80L231.85,878.80L233.30,878.80L234.75,878.80L236.19,878.80L237.64,878.80L239.08,878.80L240.53,878.80L241.97,878.80L243.42,878.80L244.86,878.79L246.31,878.79L247.75,878.79L249.20,878.79L250.65,878.78L252.09,878.78L253.54,878.77L254.98,878.77L256.43,878.76L257.87,878.75L259.32,878.73L260.76,878.72L262.21,878.70L263.65,878.67L265.10,878.64L266.54,878.60L267.99,878.56L269.44,878.50L270.88,878.44L272.33,878.36L273.77,878.27L275.22,878.16L276.66,878.02L278.11,877.86L279.55,877.68L281.00,877.46L282.44,877.20L283.89,876.90L285.33,876.55L286.78,876.15L288.23,875.67L289.67,875.13L291.12,874.50L292.56,873.79L294.01,872.97L295.45,872.04L296.90,870.98L298.34,869.78L299.79,868.43L301.23,866.92L302.68,865.22L304.13,863.33L305.57,861.23L307.02,858.91L308.46,856.34L309.91,853.52L311.35,850.43L312.80,847.06L314.24,843.40L315.69,839.43L317.13,835.15L318.58,830.54L320.02,825.62L321.47,820.36L322.92,814.78L324.36,808.88L325.81,802.66L327.25,796.13L328.70,789.32L330.14,782.24L331.59,774.91L332.07,772.41L332.07,878.80Z" fill="#008000" fill-opacity="0.5" stroke="#005a00" stroke-opacity="0.5" stroke-width="1.1" stroke-linejoin="round"/>
<g transform="scale(1 0.95)"><path d="M75.75,925.05L77.20,925.05L78.64,925.05L80.09,925.05L81.53,925.05L82.98,925.05L84.42,925.05L85.87,925.05L87.31,925.05L88.76,925.05L90.20,925.05L91.65,925.05L93.09,925.05L94.54,925.05L95.99,925.05L97.43,925.05L98.88,925.05L100.32,925.05L101.77,925.05L103.21,925.05L104.66,925.05L106.10,925.05L107.55,925.05L108.99,925.05L110.44,925.05L111.89,925.05L113.33,925.05L114.78,925.05L116.22,925.05L117.67,925.05L119.11,925.05L120.56,925.05L122.00,925.05L123.45,925.05L124.89,925.05L126.34,925.05L127.78,925.05L129.23,925.05L130.68,925.05L132.12,925.05L133.57,925.05L135.01,925.05L136.46,925.05L137.90,925.05L139.35,925.05L140.79,925.05L142.24,925.05L143.68,925.05L145.13,925.05L146.58,925.05L148.02,925.05L149.47,925.05L150.91,925.05L152.36,925.05L153.80,925.05L155.25,925.05L156.69,925.05L158.14,925.05L159.58,925.05L161.03,925.05L162.47,925.05L163.92,925.05L165.37,925.05L166.81,925.04L168.26,925.04L169.70,925.04L171.15,925.04L172.59,925.04L174.04,925.03L175.48,925.03L176.93,925.02L178.37,925.02L179.82,925.01L181.27,925.01L182.71,925.00L184.16,924.99L185.60,924.98L187.05,924.97L188.49,924.95L189.94,924.94L191.38,924.92L192.83,924.90L194.27,924.87L195.72,924.84L197.16,924.81L198.61,924.78L200.06,924.73L201.50,924.69L202.95,924.63L204.39,924.57L205.84,924.50L207.28,924.43L208.73,924.34L210.17,924.24L211.62,924.13L213.06,924.01L214.51,923.87L215.96,923.71L217.40,923.54L218.85,923.34L220.29,923.13L221.74,922.89L223.18,922.62L224.63,922.33L226.07,922.01L227.52,921.65L228.96,921.26L230.41,920.83L231.85,920.35L233.30,919.83L234.75,919.26L236.19,918.64L237.64,917.97L239.08,917.23L240.53,916.43L241.97,915.57L243.42,914.63L244.86,913.62L246.31,912.53L247.75,911.35L249.20,910.09L250.65,908.74L252.09,907.29L253.54,905.75L254.98,904.10L256.43,902.34L257.87,900.48L259.32,898.50L260.76,896.40L262.21,894.19L263.65,891.86L265.10,889.41L266.54,886.83L267.99,884.13L269.44,881.30L270.88,878.35L272.33,875.28L273.77,872.09L275.22,868.78L276.66,865.35L278.11,861.81L279.55,858.16L281.00,854.40L282.44,850.55L283.89,846.62L285.33,842.59L286.78,838.50L288.23,834.34L289.67,830.12L291.12,825.86L292.56,821.56L294.01,817.25L295.45,812.92L296.90,808.60L298.34,804.29L299.79,800.02L301.23,795.79L302.68,791.63L304.13,787.53L305.57,783.53L307.02,779.64L308.46,775.86L309.91,772.22L311.35,768.73L312.80,765.40L314.24,762.25L315.69,759.29L317.13,756.53L318.58,753.99L320.02,751.67L321.47,749.59L322.92,747.75L324.36,746.17L325.81,744.85L327.25,743.80L328.70,743.01L330.14,742.50L331.59,742.27L333.03,742.32L334.48,742.64L335.92,743.24L337.37,744.12L338.82,745.26L340.26,746.67L341.71,748.34L343.15,750.26L344.60,752.42L346.04,754.81L347.49,757.43L348.93,760.25L350.38,763.28L351.82,766.49L353.27,769.87L354.71,773.42L356.16,777.11L357.61,780.92L359.05,784.86L360.50,788.89L361.94,793.01L363.39,797.20L364.83,801.44L366.28,805.73L367.72,810.04L369.17,814.36L370.61,818.69L372.06,823.00L373.51,827.28L374.95,831.53L376.40,835.73L377.84,839.87L379.29,843.94L380.73,847.94L382.18,851.85L383.62,855.67L385.07,859.38L386.51,863.00L387.96,866.50L389.40,869.89L390.85,873.17L392.30,876.32L393.74,879.35L395.19,882.26L396.63,885.04L398.08,887.70L399.52,890.24L400.97,892.65L402.41,894.94L403.86,897.11L405.30,899.17L406.75,901.11L408.20,902.94L409.64,904.66L411.09,906.27L412.53,907.79L413.98,909.20L415.42,910.52L416.87,911.76L418.31,912.90L419.76,913.97L421.20,914.95L422.65,915.86L424.09,916.71L425.54,917.48L426.99,918.20L428.43,918.86L429.88,919.46L431.32,920.01L432.77,920.51L434.21,920.97L435.66,921.39L437.10,921.77L438.55,922.12L439.99,922.43L441.44,922.72L442.89,922.97L444.33,923.20L445.78,923.41L447.22,923.60L448.67,923.76L450.11,923.91L451.56,924.05L453.00,924.17L454.45,924.27L455.89,924.37L457.34,924.45L458.78,924.53L460.23,924.59L461.68,924.65L463.12,924.70L464.57,924.75L466.01,924.79L467.46,924.82L468.90,924.85L470.35,924.88L471.79,924.90L473.24,924.92L474.68,924.94L476.13,924.96L477.57,924.97L479.02,924.98L480.47,924.99L481.91,925.00L483.36,925.01L484.80,925.02L486.25,925.02L487.69,925.03L489.14,925.03L490.58,925.03L492.03,925.04L493.47,925.04L494.92,925.04L496.37,925.04L497.81,925.04L499.26,925.05L500.70,925.05L502.15,925.05L503.59,925.05L505.04,925.05L506.48,925.05L507.93,925.05L509.37,925.05L510.82,925.05L512.26,925.05L513.71,925.05L515.16,925.05L516.60,925.05L518.05,925.05L519.49,925.05L520.94,925.05L522.38,925.05L523.83,925.05L525.27,925.05L526.72,925.05L528.16,925.05L529.61,925.05L531.06,925.05L532.50,925.05L533.95,925.05L535.39,925.05L536.84,925.05L538.28,925.05L539.73,925.05L541.17,925.05L542.62,925.05L544.06,925.05L545.51,925.05L546.95,925.05L548.40,925.05L549.85,925.05L551.29,925.05L552.74,925.05L554.18,925.05L555.63,925.05L557.07,925.05L558.52,925.05L559.96,925.05L561.41,925.05L562.85,925.05L564.30,925.05L565.75,925.05L567.19,925.05L568.64,925.05L570.08,925.05L571.53,925.05L572.97,925.05L574.42,925.05L575.86,925.05L577.31,925.05L578.75,925.05L580.20,925.05L581.64,925.05L583.09,925.05L584.54,925.05L585.98,925.05L587.43,925.05L588.87,925.05L590.32,925.05L591.76,925.05L593.21,925.05L594.65,925.05L596.10,925.05L597.54,925.05L598.99,925.05L600.44,925.05L601.88,925.05L603.33,925.05L604.77,925.05L606.22,925.05L607.66,925.05L609.11,925.05L610.55,925.05L612.00,925.05L613.44,925.05L614.89,925.05L616.33,925.05L617.78,925.05L619.23,925.05L620.67,925.05L622.12,925.05L623.56,925.05L625.01,925.05L626.45,925.05L627.90,925.05L629.34,925.05L630.79,925.05L632.23,925.05L633.68,925.05L635.13,925.05L636.57,925.05L638.02,925.05L639.46,925.05L640.91,925.05L642.35,925.05L643.80,925.05L645.24,925.05L646.69,925.05L648.13,925.05L649.58,925.05L651.02,925.05L652.47,925.05" fill="none" stroke="#000000" stroke-opacity="0.72" stroke-width="1.9" stroke-dasharray="6.7 2.9"/>
<line x1="393.14" y1="937.79" x2="393.14" y2="655.05" stroke="#ff00ff" stroke-width="2.0" stroke-dasharray="6.7 2.9"/>
<line x1="448.90" y1="937.79" x2="448.90" y2="655.05" stroke="#ffa500" stroke-width="2.0" stroke-dasharray="6.7 2.9"/>
</g>
<path d="M47.35,622.30V890.90H682.00" fill="none" stroke="#333333" stroke-width="1.4" stroke-linecap="butt" stroke-linejoin="miter"/>
<g stroke="#333333" stroke-width="1.1"><line x1="139.83" y1="890.90" x2="139.83" y2="886.70"/><line x1="203.91" y1="890.90" x2="203.91" y2="886.70"/><line x1="267.99" y1="890.90" x2="267.99" y2="886.70"/><line x1="332.07" y1="890.90" x2="332.07" y2="886.70"/><line x1="396.15" y1="890.90" x2="396.15" y2="886.70"/><line x1="460.23" y1="890.90" x2="460.23" y2="886.70"/><line x1="524.31" y1="890.90" x2="524.31" y2="886.70"/><line x1="588.39" y1="890.90" x2="588.39" y2="886.70"/><line x1="47.35" y1="878.80" x2="51.55" y2="878.80"/><line x1="47.35" y1="828.48" x2="51.55" y2="828.48"/><line x1="47.35" y1="778.16" x2="51.55" y2="778.16"/><line x1="47.35" y1="727.84" x2="51.55" y2="727.84"/><line x1="47.35" y1="677.52" x2="51.55" y2="677.52"/><line x1="47.35" y1="627.20" x2="51.55" y2="627.20"/></g>
<text x="42.40" y="883.60" font-size="14.0" text-anchor="end" textLength="8.78" lengthAdjust="spacingAndGlyphs" fill="#3a3a3a">0</text>
<text x="42.40" y="833.28" font-size="14.0" text-anchor="end" textLength="8.78" lengthAdjust="spacingAndGlyphs" fill="#3a3a3a">2</text>
<text x="42.40" y="782.96" font-size="14.0" text-anchor="end" textLength="8.78" lengthAdjust="spacingAndGlyphs" fill="#3a3a3a">4</text>
<text x="42.40" y="732.64" font-size="14.0" text-anchor="end" textLength="8.78" lengthAdjust="spacingAndGlyphs" fill="#3a3a3a">6</text>
<text x="42.40" y="682.32" font-size="14.0" text-anchor="end" textLength="8.78" lengthAdjust="spacingAndGlyphs" fill="#3a3a3a">8</text>
<text x="42.40" y="632.00" font-size="14.0" text-anchor="end" textLength="17.56" lengthAdjust="spacingAndGlyphs" fill="#3a3a3a">10</text>
<g transform="translate(16.9,758.60) rotate(-90)"><text x="0.00" y="0.00" font-size="15.2" text-anchor="middle" textLength="50.56" lengthAdjust="spacingAndGlyphs" fill="#3a3a3a">Density</text></g>
<text x="364.38" y="616.20" font-size="18.5" text-anchor="middle" textLength="371.24" lengthAdjust="spacingAndGlyphs" fill="#3a3a3a">Skeptical Prior and Skeptical Posterior</text>
<rect x="462.20" y="627.90" width="212.80" height="86.70" rx="2.6" fill="#ffffff" fill-opacity="0.8" stroke="#cccccc" stroke-opacity="0.8" stroke-width="1.2"/>
<line x1="466.90" y1="637.00" x2="491.50" y2="637.00" stroke="#000" stroke-opacity="0.72" stroke-width="1.9" stroke-dasharray="6.7 2.9"/>
<text x="501.30" y="641.10" font-size="11.6" textLength="87.64" lengthAdjust="spacingAndGlyphs" fill="#3a3a3a">Skeptical Prior</text>
<rect x="467.40" y="649.95" width="23.6" height="7.8" fill="#ff0000" fill-opacity="0.5" stroke="#ff0000" stroke-opacity="0.5" stroke-width="1"/>
<text x="501.30" y="657.95" font-size="11.6" textLength="169.58" lengthAdjust="spacingAndGlyphs" fill="#3a3a3a">Skeptical Posterior (RR &gt; 1)</text>
<rect x="467.40" y="666.80" width="23.6" height="7.8" fill="#008000" fill-opacity="0.5" stroke="#008000" stroke-opacity="0.5" stroke-width="1"/>
<text x="501.30" y="674.80" font-size="11.6" textLength="169.58" lengthAdjust="spacingAndGlyphs" fill="#3a3a3a">Skeptical Posterior (RR &lt; 1)</text>
<line x1="466.90" y1="687.55" x2="491.50" y2="687.55" stroke="#ff00ff" stroke-width="1.9" stroke-dasharray="6.7 2.9"/>
<text x="501.30" y="691.65" font-size="11.6" textLength="63.25" lengthAdjust="spacingAndGlyphs" fill="#3a3a3a">P(RR&gt;1.1)</text>
<line x1="466.90" y1="704.40" x2="491.50" y2="704.40" stroke="#ffa500" stroke-width="1.9" stroke-dasharray="6.7 2.9"/>
<text x="501.30" y="708.50" font-size="11.6" textLength="63.25" lengthAdjust="spacingAndGlyphs" fill="#3a3a3a">P(RR&gt;1.2)</text>
<text x="139.83" y="905.90" font-size="14.0" text-anchor="middle" textLength="27.90" lengthAdjust="spacingAndGlyphs" fill="#3a3a3a">-0.3</text>
<text x="139.83" y="921.30" font-size="14.0" text-anchor="middle" textLength="43.00" lengthAdjust="spacingAndGlyphs" fill="#3a3a3a">(0.74)</text>
<text x="203.91" y="905.90" font-size="14.0" text-anchor="middle" textLength="27.90" lengthAdjust="spacingAndGlyphs" fill="#3a3a3a">-0.2</text>
<text x="203.91" y="921.30" font-size="14.0" text-anchor="middle" textLength="43.00" lengthAdjust="spacingAndGlyphs" fill="#3a3a3a">(0.82)</text>
<text x="267.99" y="905.90" font-size="14.0" text-anchor="middle" textLength="27.90" lengthAdjust="spacingAndGlyphs" fill="#3a3a3a">-0.1</text>
<text x="267.99" y="921.30" font-size="14.0" text-anchor="middle" textLength="43.00" lengthAdjust="spacingAndGlyphs" fill="#3a3a3a">(0.90)</text>
<text x="332.07" y="905.90" font-size="14.0" text-anchor="middle" textLength="22.74" lengthAdjust="spacingAndGlyphs" fill="#3a3a3a">0.0</text>
<text x="332.07" y="921.30" font-size="14.0" text-anchor="middle" textLength="43.00" lengthAdjust="spacingAndGlyphs" fill="#3a3a3a">(1.00)</text>
<text x="396.15" y="905.90" font-size="14.0" text-anchor="middle" textLength="22.74" lengthAdjust="spacingAndGlyphs" fill="#3a3a3a">0.1</text>
<text x="396.15" y="921.30" font-size="14.0" text-anchor="middle" textLength="43.00" lengthAdjust="spacingAndGlyphs" fill="#3a3a3a">(1.11)</text>
<text x="460.23" y="905.90" font-size="14.0" text-anchor="middle" textLength="22.74" lengthAdjust="spacingAndGlyphs" fill="#3a3a3a">0.2</text>
<text x="460.23" y="921.30" font-size="14.0" text-anchor="middle" textLength="43.00" lengthAdjust="spacingAndGlyphs" fill="#3a3a3a">(1.22)</text>
<text x="524.31" y="905.90" font-size="14.0" text-anchor="middle" textLength="22.74" lengthAdjust="spacingAndGlyphs" fill="#3a3a3a">0.3</text>
<text x="524.31" y="921.30" font-size="14.0" text-anchor="middle" textLength="43.00" lengthAdjust="spacingAndGlyphs" fill="#3a3a3a">(1.35)</text>
<text x="588.39" y="905.90" font-size="14.0" text-anchor="middle" textLength="22.74" lengthAdjust="spacingAndGlyphs" fill="#3a3a3a">0.4</text>
<text x="588.39" y="921.30" font-size="14.0" text-anchor="middle" textLength="43.00" lengthAdjust="spacingAndGlyphs" fill="#3a3a3a">(1.49)</text>
<text x="363.68" y="938.90" font-size="13.8" text-anchor="middle" textLength="102.97" lengthAdjust="spacingAndGlyphs" fill="#3a3a3a">Log Risk Ratio</text>
</svg>
</body></html>
